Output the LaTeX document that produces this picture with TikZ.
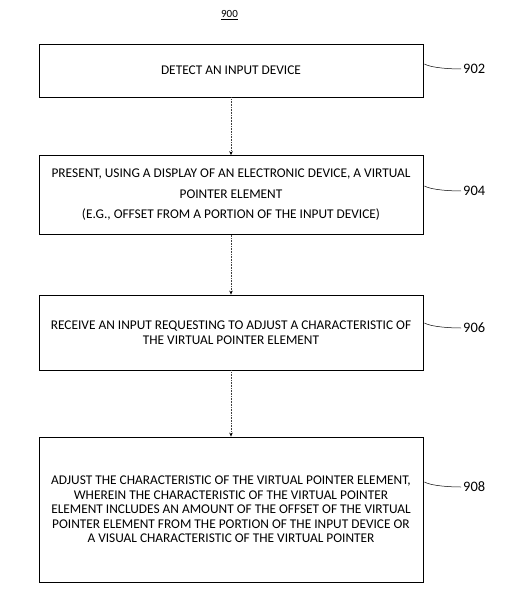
\documentclass[tikz,border=0pt]{standalone}
\usepackage{fontspec}
\setmainfont{Carlito}
\usetikzlibrary{arrows.meta,calc}
\begin{document}
\begin{tikzpicture}[x=1bp,y=-1bp,
  stepbox/.style={draw, line width=0.8pt, minimum width=384bp, align=center, inner sep=0pt, font=\fontsize{13.4}{14.5}\selectfont},
  flow/.style={densely dotted, draw=black!75, line width=0.6pt, -{Stealth[length=4pt,width=3.5pt,black]}},
  lead/.style={line width=0.5pt},
  reflab/.style={font=\fontsize{14.5}{16}\selectfont, anchor=west, inner sep=0pt}]
\useasboundingbox (0,0) rectangle (519,598);
\node[font=\fontsize{11}{12}\selectfont, inner sep=0pt] (t) at (229.5,15) {\underline{900}};
\node[stepbox, minimum height=53bp] (b1) at (231,70.5) {DETECT AN INPUT DEVICE};
\node[stepbox, minimum height=79bp, font=\fontsize{13.4}{20.5}\selectfont] (b2) at (231,195) {PRESENT, USING A DISPLAY OF AN ELECTRONIC DEVICE, A VIRTUAL\\POINTER ELEMENT\\(E.G., OFFSET FROM A PORTION OF THE INPUT DEVICE)};
\node[stepbox, minimum height=75bp] (b3) at (231,332.5) {RECEIVE AN INPUT REQUESTING TO ADJUST A CHARACTERISTIC OF\\THE VIRTUAL POINTER ELEMENT};
\node[stepbox, minimum height=145bp] (b4) at (231,509.5) {ADJUST THE CHARACTERISTIC OF THE VIRTUAL POINTER ELEMENT,\\WHEREIN THE CHARACTERISTIC OF THE VIRTUAL POINTER\\ELEMENT INCLUDES AN AMOUNT OF THE OFFSET OF THE VIRTUAL\\POINTER ELEMENT FROM THE PORTION OF THE INPUT DEVICE OR\\A VISUAL CHARACTERISTIC OF THE VIRTUAL POINTER};
\draw[flow] (b1.south) -- (b2.north);
\draw[flow] (b2.south) -- (b3.north);
\draw[flow] (b3.south) -- (b4.north);
\node[reflab] (l1) at (463,69) {902};
\node[reflab] (l2) at (463,191) {904};
\node[reflab] (l3) at (463,328) {906};
\node[reflab] (l4) at (463,487) {908};
\foreach \b/\l in {b1/l1,b2/l2,b3/l3,b4/l4}{
  \draw[lead] ($(\b.east |- \l.west)+(1,-5)$) .. controls +(7,4) and +(-10,0) .. ($(\l.west)+(-2,0)$);
}
\end{tikzpicture}
\end{document}
